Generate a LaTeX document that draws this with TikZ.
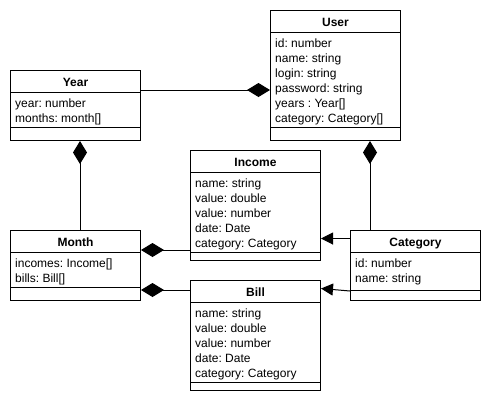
\documentclass[tikz,border=0pt]{standalone}
\usepackage{fontspec}
\setmainfont{Liberation Sans}
\usetikzlibrary{arrows.meta,calc}
\frenchspacing
\begin{document}
\begin{tikzpicture}[x=1pt,y=-1pt,
  every node/.style={font=\fontsize{12}{15}\selectfont\frenchspacing},
  cls/.style={draw,line width=1pt,anchor=north west,inner sep=0pt,minimum width=130pt},
  ttl/.style={anchor=base,inner sep=0pt,font=\fontsize{12}{15}\selectfont\bfseries},
  attr/.style={anchor=base west,inner sep=0pt},
  sep/.style={line width=1pt},
  comp/.style={line width=1pt,-{Diamond[length=23pt,width=14pt]}},
  inh/.style={line width=1pt,-{Triangle[length=12pt,width=12pt]}}
]
\useasboundingbox (0,0) rectangle (490,400);

% Year
\node[cls,minimum height=70pt] (year) at (10,70) {};
\node[ttl] (year-t) at ($(year.north)+(0,16.5)$) {Year};
\draw[sep] ($(year.north west)+(0,22)$) -- ($(year.north east)+(0,22)$);
\foreach \t [count=\i] in {year: number, months: month[]}
  \node[attr] (year-a\i) at ($(year.north west)+(5,22+15*\i)$) {\t};
\draw[sep] ($(year.north west)+(0,57)$) -- ($(year.north east)+(0,57)$);

% User
\node[cls,minimum height=130pt] (user) at (270,10) {};
\node[ttl] (user-t) at ($(user.north)+(0,16.5)$) {User};
\draw[sep] ($(user.north west)+(0,22)$) -- ($(user.north east)+(0,22)$);
\foreach \t [count=\i] in {id: number, name: string, login: string, password: string, years : Year[], category: Category[]}
  \node[attr] (user-a\i) at ($(user.north west)+(5,22+15*\i)$) {\t};
\draw[sep] ($(user.north west)+(0,117)$) -- ($(user.north east)+(0,117)$);

% Income
\node[cls,minimum height=110pt] (income) at (190,150) {};
\node[ttl] (income-t) at ($(income.north)+(0,16.5)$) {Income};
\draw[sep] ($(income.north west)+(0,22)$) -- ($(income.north east)+(0,22)$);
\foreach \t [count=\i] in {name: string, value: double, value: number, date: Date, category: Category}
  \node[attr] (income-a\i) at ($(income.north west)+(5,22+15*\i)$) {\t};
\draw[sep] ($(income.north west)+(0,102)$) -- ($(income.north east)+(0,102)$);

% Month
\node[cls,minimum height=70pt] (month) at (10,230) {};
\node[ttl] (month-t) at ($(month.north)+(0,16.5)$) {Month};
\draw[sep] ($(month.north west)+(0,22)$) -- ($(month.north east)+(0,22)$);
\foreach \t [count=\i] in {incomes: Income[], bills: Bill[]}
  \node[attr] (month-a\i) at ($(month.north west)+(5,22+15*\i)$) {\t};
\draw[sep] ($(month.north west)+(0,57)$) -- ($(month.north east)+(0,57)$);

% Category
\node[cls,minimum height=70pt] (category) at (350,230) {};
\node[ttl] (category-t) at ($(category.north)+(0,16.5)$) {Category};
\draw[sep] ($(category.north west)+(0,22)$) -- ($(category.north east)+(0,22)$);
\foreach \t [count=\i] in {id: number, name: string}
  \node[attr] (category-a\i) at ($(category.north west)+(5,22+15*\i)$) {\t};
\draw[sep] ($(category.north west)+(0,60)$) -- ($(category.north east)+(0,60)$);

% Bill
\node[cls,minimum height=110pt] (bill) at (190,280) {};
\node[ttl] (bill-t) at ($(bill.north)+(0,16.5)$) {Bill};
\draw[sep] ($(bill.north west)+(0,22)$) -- ($(bill.north east)+(0,22)$);
\foreach \t [count=\i] in {name: string, value: double, value: number, date: Date, category: Category}
  \node[attr] (bill-a\i) at ($(bill.north west)+(5,22+15*\i)$) {\t};
\draw[sep] ($(bill.north west)+(0,102)$) -- ($(bill.north east)+(0,102)$);

% connectors
\draw[comp] ($(year.north east)+(0,20)$) -- ($(user.north west)+(0,80)$);
\draw[comp] ($(month.north west)+(70,0)$) -- ($(year.south west)+(70,0)$);
\draw[comp] ($(category.north west)+(20,0)$) -- ($(user.south west)+(100,0)$);
\draw[comp] ($(income.north west)+(0,100)$) -- ($(month.north east)+(0,20)$);
\draw[comp] ($(bill.north west)+(0,10)$) -- ($(month.north east)+(0,60)$);
\draw[inh] ($(category.north west)+(0,8.5)$) -- ($(income.north east)+(0,88.5)$);
\draw[inh] ($(category.north west)+(0,61)$) -- ($(bill.north east)+(0,8.5)$);
\end{tikzpicture}
\end{document}
